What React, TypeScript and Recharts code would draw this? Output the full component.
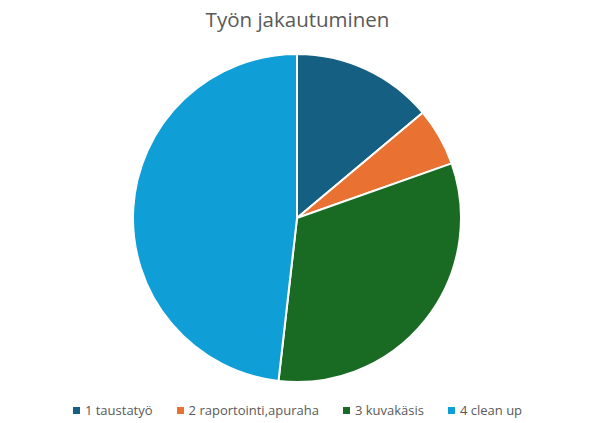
import { PieChart, Pie, Cell, Legend } from "recharts";

const categories = ["1 taustatyö", "2 raportointi,apuraha", "3 kuvakäsis", "4 clean up"];
const shares = [13.9, 5.7, 32.2, 48.2];
const colors = ["#156082", "#E97132", "#196B24", "#0F9ED5"];

const data = categories.map((name, i) => ({ name, value: shares[i] }));

const FONT = "'Open Sans', 'Noto Sans', sans-serif";

function LegendRow() {
  return (
    <div
      style={{
        display: "flex",
        justifyContent: "center",
        gap: 24,
        fontFamily: FONT,
        fontSize: 13,
        color: "#595959",
      }}
    >
      {categories.map((c, i) => (
        <div key={c} style={{ display: "flex", alignItems: "center", gap: 5 }}>
          <span style={{ width: 7, height: 7, background: colors[i], display: "inline-block" }} />
          <span>{c}</span>
        </div>
      ))}
    </div>
  );
}

export default function App() {
  return (
    <div style={{ position: "absolute", left: 0, top: 0, width: 595, height: 423, background: "#fff" }}>
      <style>{"body{margin:0}"}</style>
      <div
        style={{
          position: "absolute",
          top: 5,
          width: "100%",
          textAlign: "center",
          fontFamily: FONT,
          fontSize: 20.5,
          color: "#595959",
        }}
      >
        Työn jakautuminen
      </div>
      <PieChart width={595} height={423} margin={{ top: 0, right: 0, bottom: 0, left: 0 }}>
        <Pie
          data={data}
          dataKey="value"
          nameKey="name"
          cx={297}
          cy={218}
          outerRadius={164}
          startAngle={90}
          endAngle={-270}
          stroke="#fff"
          strokeWidth={2}
          isAnimationActive={false}
        >
          {data.map((d, i) => (
            <Cell key={d.name} fill={colors[i]} />
          ))}
        </Pie>
        <Legend
          verticalAlign="bottom"
          wrapperStyle={{ bottom: 4 }}
          content={() => <LegendRow />}
        />
      </PieChart>
    </div>
  );
}
